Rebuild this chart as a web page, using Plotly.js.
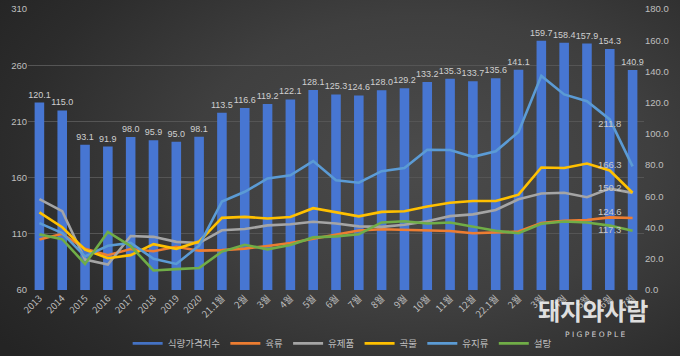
<!DOCTYPE html>
<html>
<head>
<meta charset="utf-8">
<script src="https://cdn.plot.ly/plotly-3.0.1.min.js"></script>
<style>
html,body{margin:0;padding:0;}
body{width:680px;height:356px;overflow:hidden;
background: radial-gradient(ellipse 75% 90% at 62% 45%, #4b4b4b 0%, #3f3f3f 45%, #2c2c2c 80%, #242424 100%);}
#chart{width:680px;height:356px;}
</style>
</head>
<body>
<div id="chart"></div>
<script>
const labels = ['2013','2014','2015','2016','2017','2018','2019','2020','21.1월','2월','3월','4월','5월','6월','7월','8월','9월','10월','11월','12월','22.1월','2월','3월','4월','5월','6월','7월'];
const foodIndex = [120.1,115.0,93.1,91.9,98.0,95.9,95.0,98.1,113.5,116.6,119.2,122.1,128.1,125.3,124.6,128.0,129.2,133.2,135.3,133.7,135.6,141.1,159.7,158.4,157.9,154.3,140.9];
const meat   = [105.0,110.0,96.7,91.0,96.5,94.5,98.5,95.0,95.5,96.8,99.2,101.8,105.6,109.2,113.0,114.0,113.5,112.7,112.5,110.5,111.0,112.0,119.5,121.5,122.3,124.6,124.0];
const dairy  = [140.9,130.2,87.1,82.6,108.0,107.3,102.8,101.8,113.1,114.2,117.5,118.5,120.7,119.1,116.6,116.2,118.1,121.1,125.7,127.3,131.2,140.7,145.8,146.5,142.5,150.2,146.4];
const cereal = [129.1,115.8,95.9,88.3,91.0,100.8,96.6,103.1,124.2,125.1,123.6,125.0,132.8,129.3,125.5,129.5,130.0,134.3,137.6,139.2,139.2,144.8,169.0,168.5,172.5,166.3,146.5];
const oils   = [119.5,110.6,89.9,99.4,101.9,87.8,83.2,99.4,138.8,147.4,159.2,162.0,174.7,157.7,155.4,165.7,168.6,184.8,184.6,178.5,183.5,200.5,250.5,234.0,228.0,211.8,170.0];
const sugar  = [109.5,105.2,83.2,111.6,99.1,77.4,78.6,79.5,94.2,100.2,96.2,100.0,106.8,107.7,109.6,120.1,121.2,119.1,120.0,116.4,112.7,110.5,119.0,121.0,120.0,117.3,112.8];
const labelIndex = 25;

const xs = labels.map((_, i) => i);
const lbl = arr => arr.map((v, i) => i === labelIndex ? v.toFixed(1) : '');

const lineTrace = (name, data, color, pos) => ({
  type: 'scatter', mode: 'lines+text', name: name, x: xs, y: data, yaxis: 'y2',
  line: {color: color, width: 2.6}, text: lbl(data), textposition: pos,
  textfont: {family: 'Liberation Sans, Arial, sans-serif', size: 9.5, color: '#c8c8c8'},
  cliponaxis: false, hoverinfo: 'skip'
});

const traces = [
  {type: 'bar', name: '식량가격지수', x: xs, y: foodIndex, yaxis: 'y', width: 0.42,
   marker: {color: '#4776d2'}, texttemplate: '%{y:.1f}', textposition: 'outside',
   constraintext: 'none', textangle: 0,
   textfont: {family: 'Liberation Sans, Arial, sans-serif', size: 9, color: '#d0d0d0'},
   cliponaxis: false, showlegend: false},
  {type: 'scatter', mode: 'lines', name: '식량가격지수', x: [null], y: [null], yaxis: 'y2',
   line: {color: '#4472C4', width: 2.6}},
  lineTrace('육류', meat, '#ED7D31', 'top center'),
  lineTrace('유제품', dairy, '#A5A5A5', 'middle center'),
  lineTrace('곡물', cereal, '#FFC000', 'top center'),
  lineTrace('유지류', oils, '#5B9BD5', 'bottom center'),
  lineTrace('설탕', sugar, '#70AD47', 'bottom center')
];

const tickFont = {family: 'Liberation Sans, Arial, sans-serif', size: 9.5, color: '#bfbfbf'};

const layout = {
  width: 680, height: 356,
  paper_bgcolor: 'rgba(0,0,0,0)', plot_bgcolor: 'rgba(0,0,0,0)',
  margin: {l: 28, r: 36, t: 9, b: 66, autoexpand: false},
  font: {family: 'Noto Sans CJK KR, sans-serif', color: '#bfbfbf'},
  xaxis: {range: [-0.5, 26.5], tickmode: 'array', tickvals: xs, ticktext: labels, automargin: false,
          tickangle: -45, tickfont: {family: 'Noto Sans CJK KR, sans-serif', size: 9.5, color: '#bfbfbf'},
          showgrid: false, zeroline: false, showline: false, ticks: ''},
  yaxis: {side: 'right', range: [0, 180], dtick: 20, tickformat: '.1f', showgrid: false, automargin: false,
          zeroline: false, tickfont: tickFont, ticks: ''},
  yaxis2: {overlaying: 'y', side: 'left', range: [60, 310], tick0: 60, dtick: 50, showgrid: true, automargin: false,
           gridcolor: '#555555', gridwidth: 1, zeroline: false, tickfont: tickFont, ticks: ''},
  showlegend: true,
  legend: {orientation: 'h', x: 0.51, xanchor: 'center', y: -0.19, yanchor: 'middle',
           font: {family: 'Noto Sans CJK KR, sans-serif', size: 9.5, color: '#bfbfbf'},
           bgcolor: 'rgba(0,0,0,0)', itemwidth: 30, tracegroupgap: 0},
  annotations: [
    {xref: 'paper', yref: 'paper', x: 0.917, xanchor: 'center', y: -0.07, yanchor: 'middle',
     text: '<b>돼지와사람</b>', showarrow: false,
     font: {family: 'Noto Sans CJK KR, sans-serif', size: 24, color: 'rgba(240,240,240,0.92)'}},
    {xref: 'paper', yref: 'paper', x: 0.92, xanchor: 'center', y: -0.158, yanchor: 'middle',
     text: 'P I G P E O P L E', showarrow: false,
     font: {family: 'DejaVu Sans, sans-serif', size: 7.5, color: 'rgba(230,230,230,0.9)'}}
  ]
};

Plotly.newPlot('chart', traces, layout, {staticPlot: true, displayModeBar: false});
</script>
</body>
</html>
